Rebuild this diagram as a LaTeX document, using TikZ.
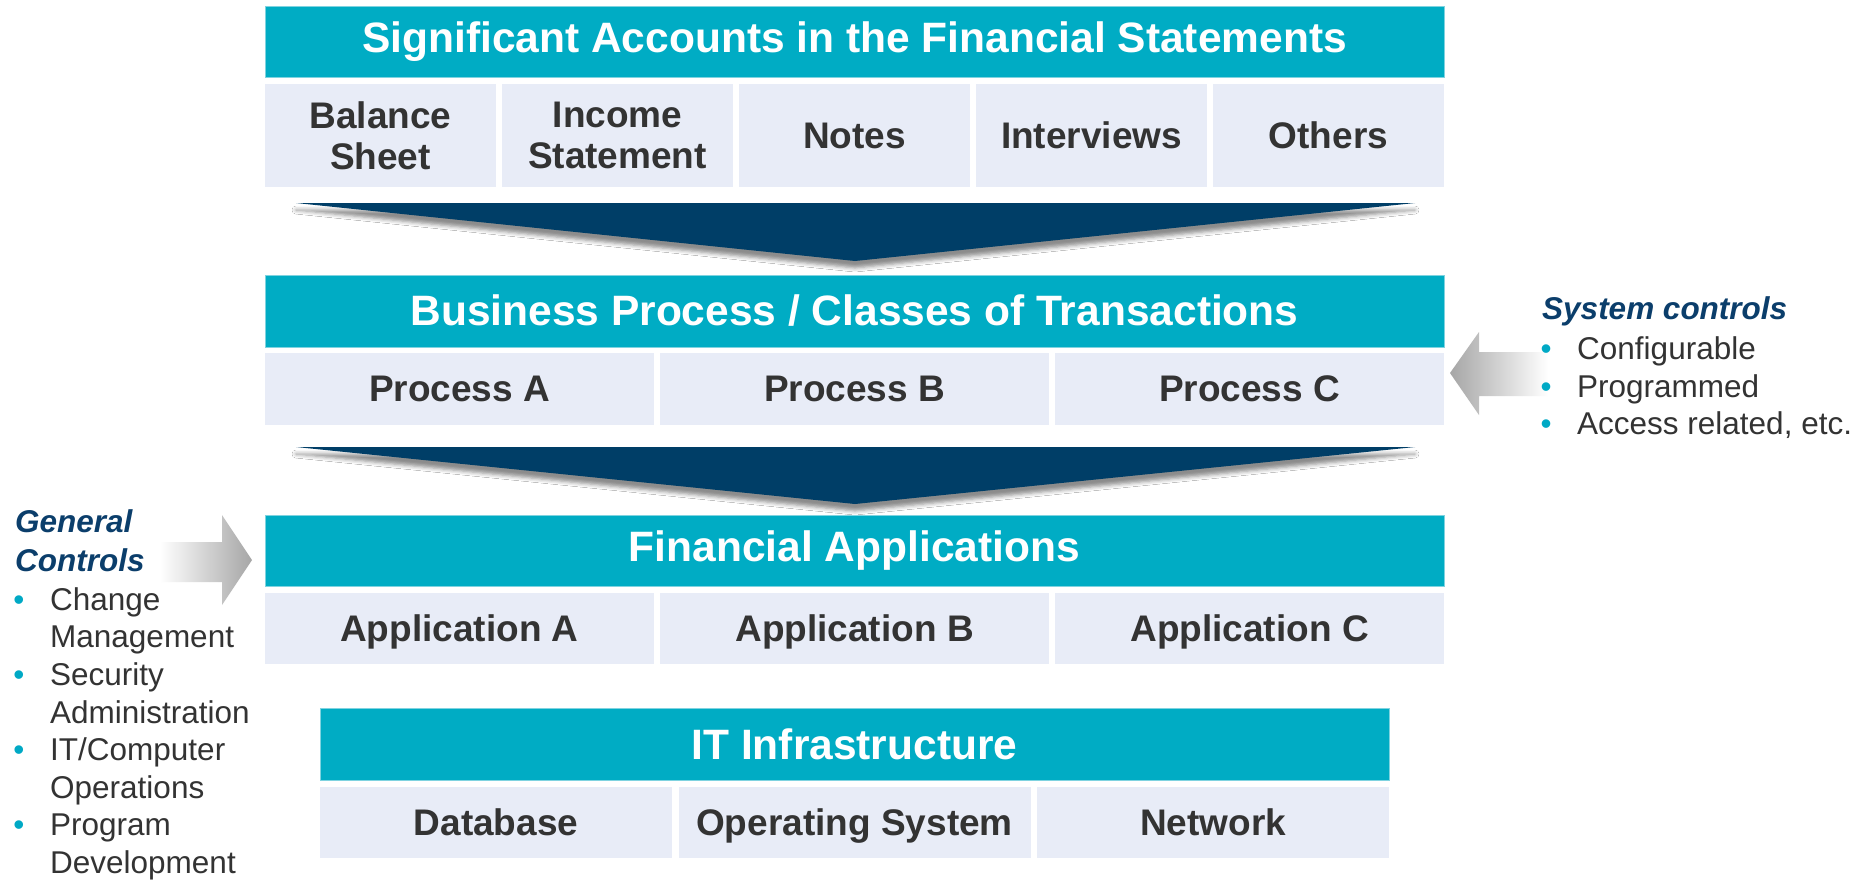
\documentclass[tikz,border=0pt]{standalone}
\usepackage{fontspec}
\setmainfont{Liberation Sans}
\usetikzlibrary{shadows.blur}
\definecolor{tealh}{HTML}{00ACC4}
\definecolor{tealedge}{HTML}{7FD3E0}
\definecolor{cellbg}{HTML}{E8ECF7}
\definecolor{navy}{HTML}{003E67}
\definecolor{txt}{HTML}{333333}
\definecolor{titlec}{HTML}{0B3E6B}
\definecolor{bul}{HTML}{00A9C5}
\tikzset{
  hdr/.style={fill=tealh, draw=tealedge, line width=0.8pt, inner sep=0pt, text=white,
    font=\bfseries\fontsize{42.5}{48}\selectfont},
  cellbox/.style={fill=cellbg, inner sep=0pt, text=txt, align=center, text depth=0pt,
    font=\bfseries\fontsize{37}{41}\selectfont},
  chevron/.style={fill=navy, blur shadow={shadow xshift=0pt, shadow yshift=-7pt,
    shadow blur radius=4pt, shadow opacity=45}},
  sidetitle/.style={inner sep=0pt, anchor=base west, text=titlec,
    font=\bfseries\itshape\fontsize{31.5}{37.5}\selectfont},
  sidetext/.style={inner sep=0pt, anchor=base west, text=txt,
    font=\fontsize{31.5}{37.5}\selectfont},
  bulletdot/.style={inner sep=0pt, anchor=base, text=bul,
    font=\fontsize{31.5}{37.5}\selectfont},
}
\begin{document}
\begin{tikzpicture}[x=1pt,y=-1pt]
\useasboundingbox (0,0) rectangle (1872,884);
\fill[white] (0,0) rectangle (1872,884);

% ---- Row 1
\node[hdr, minimum width=1179, minimum height=71] (h1) at (854.5,41.5) {Significant Accounts in the Financial Statements};
\node[cellbox, minimum width=231, minimum height=103] (c11) at (380.5,135.5) {Balance\\Sheet};
\node[cellbox, minimum width=231, minimum height=103] (c12) at (617.5,135.5) {Income\\Statement};
\node[cellbox, minimum width=231, minimum height=103] (c13) at (854.5,135.5) {Notes};
\node[cellbox, minimum width=231, minimum height=103] (c14) at (1091.5,135.5) {Interviews};
\node[cellbox, minimum width=231, minimum height=103] (c15) at (1328.5,135.5) {Others};

% ---- Chevron 1
\path[chevron] (296,203) -- (1415,203) -- (855,261) -- cycle;

% ---- Row 2
\node[hdr, minimum width=1179, minimum height=72] (h2) at (854.5,311) {Business Process / Classes of Transactions};
\node[cellbox, minimum width=389, minimum height=72] (c21) at (459.5,389) {Process A};
\node[cellbox, minimum width=389, minimum height=72] (c22) at (854.5,389) {Process B};
\node[cellbox, minimum width=389, minimum height=72] (c23) at (1249.5,389) {Process C};

% ---- Chevron 2
\path[chevron] (296,447) -- (1415,447) -- (855,504) -- cycle;

% ---- Row 3
\node[hdr, minimum width=1179, minimum height=71] (h3) at (854.5,550.5) {Financial Applications};
\node[cellbox, minimum width=389, minimum height=71] (c31) at (459.5,628.5) {Application A};
\node[cellbox, minimum width=389, minimum height=71] (c32) at (854.5,628.5) {Application B};
\node[cellbox, minimum width=389, minimum height=71] (c33) at (1249.5,628.5) {Application C};

% ---- Row 4
\node[hdr, minimum width=1069, minimum height=72] (h4) at (854.5,744) {IT Infrastructure};
\node[cellbox, minimum width=352, minimum height=71] (c41) at (496,822.5) {Database};
\node[cellbox, minimum width=352, minimum height=71] (c42) at (854.5,822.5) {Operating System};
\node[cellbox, minimum width=352, minimum height=71] (c43) at (1213,822.5) {Network};

% ---- Gray arrows
\shade[left color=white, middle color=gray!45, right color=gray!70]
  (160,542) -- (222,542) -- (222,515) -- (252,560) -- (222,605) -- (222,582) -- (160,582) -- cycle;
\shade[left color=gray!70, middle color=gray!45, right color=white]
  (1548,352) -- (1479,352) -- (1479,332) -- (1450,373) -- (1479,415) -- (1479,396) -- (1548,396) -- cycle;

% ---- System controls
\node[sidetitle] (sct) at (1542,319) {System controls};
\node[bulletdot] (sb1) at (1546,359) {•};
\node[sidetext] (st1) at (1577,359) {Configurable};
\node[bulletdot] (sb2) at (1546,397) {•};
\node[sidetext] (st2) at (1577,397) {Programmed};
\node[bulletdot] (sb3) at (1546,434) {•};
\node[sidetext] (st3) at (1577,434) {Access related, etc.};

% ---- General Controls
\node[sidetitle] (gct1) at (15,532) {General};
\node[sidetitle] (gct2) at (15,571) {Controls};
\node[bulletdot] (gb1) at (19,610) {•};
\node[sidetext] (g1a) at (50,610) {Change};
\node[sidetext] (g1b) at (50,647) {Management};
\node[bulletdot] (gb2) at (19,685) {•};
\node[sidetext] (g2a) at (50,685) {Security};
\node[sidetext] (g2b) at (50,723) {Administration};
\node[bulletdot] (gb3) at (19,760) {•};
\node[sidetext] (g3a) at (50,760) {IT/Computer};
\node[sidetext] (g3b) at (50,798) {Operations};
\node[bulletdot] (gb4) at (19,835) {•};
\node[sidetext] (g4a) at (50,835) {Program};
\node[sidetext] (g4b) at (50,873) {Development};
\end{tikzpicture}
\end{document}
